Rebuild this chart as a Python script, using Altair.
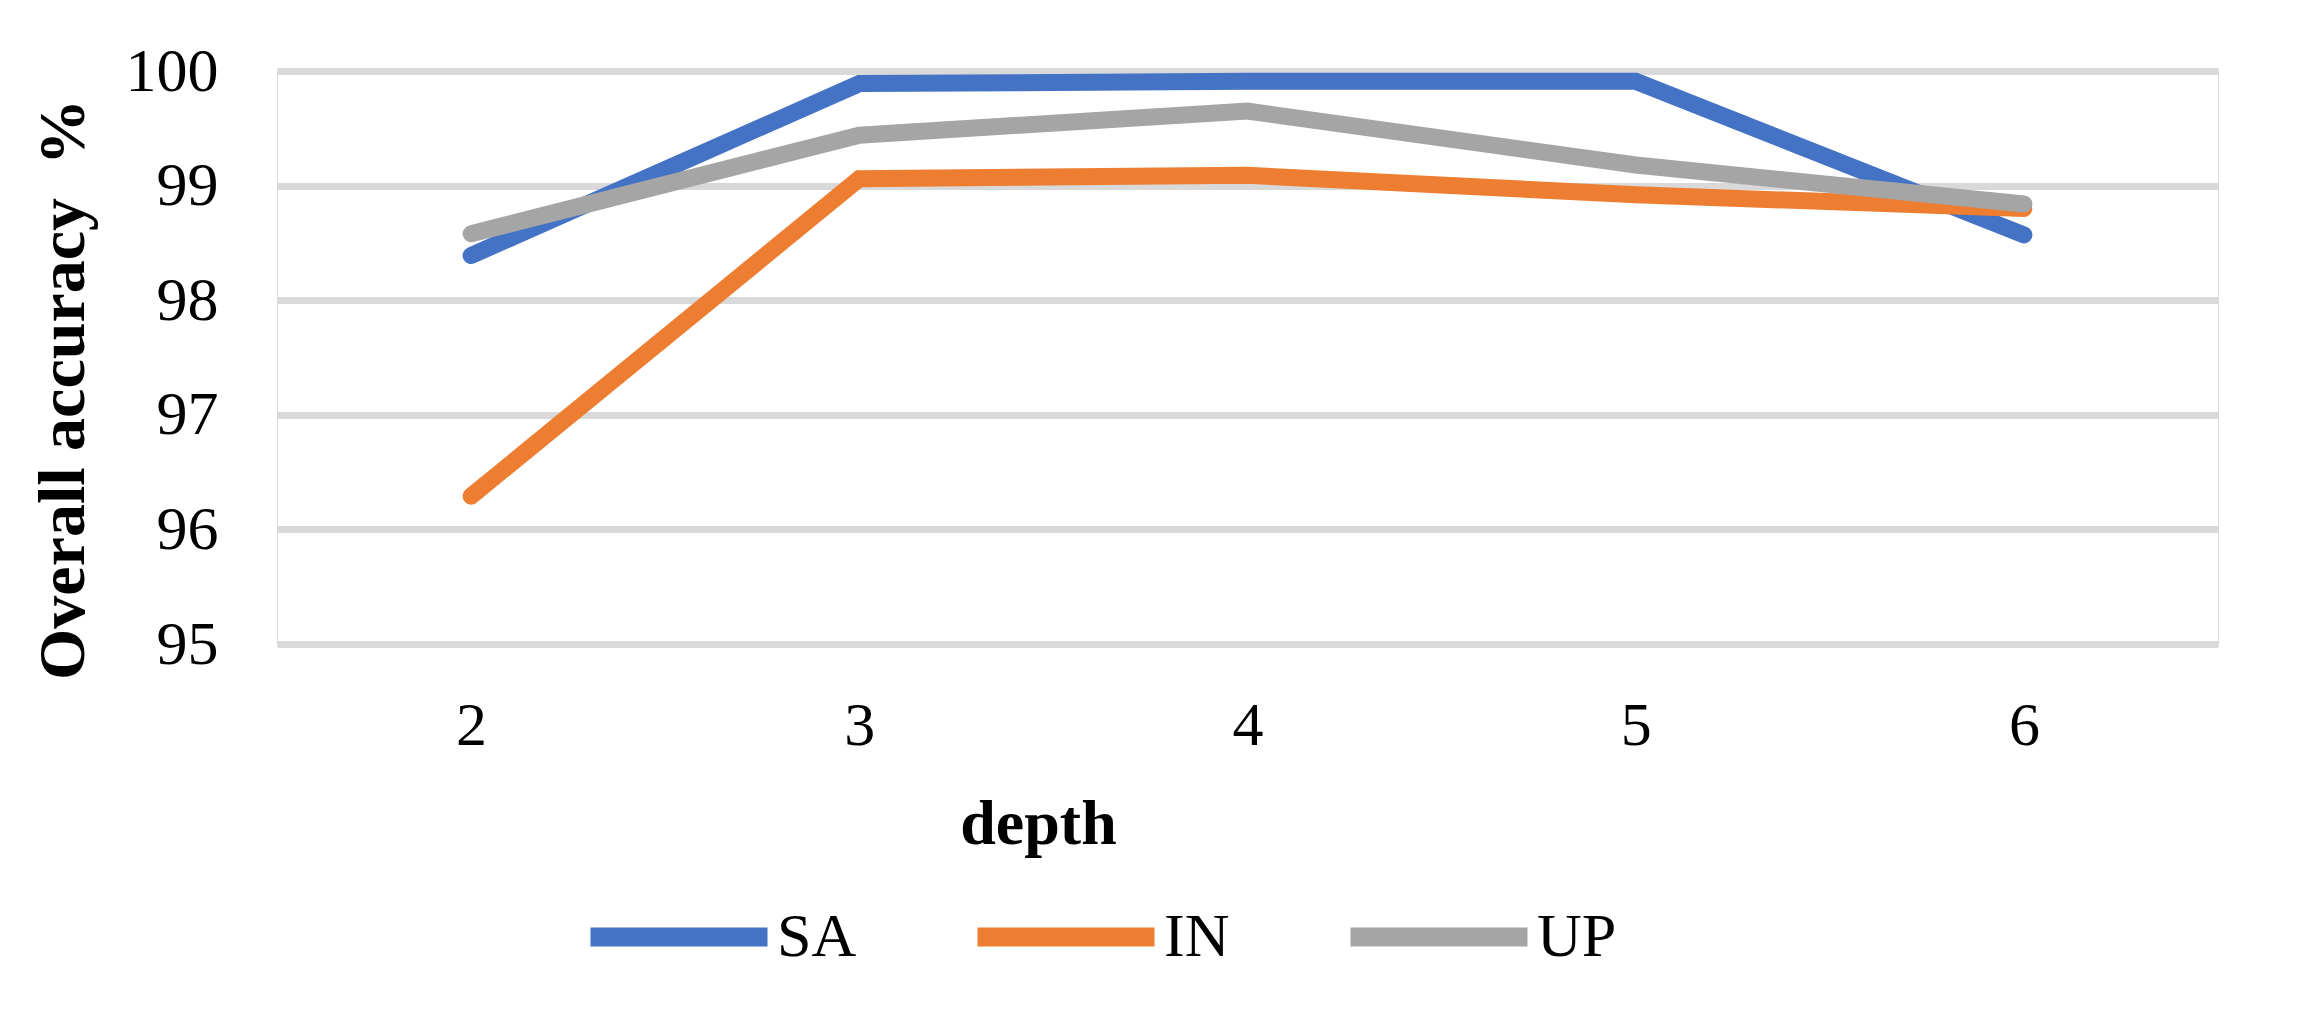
import altair as alt
import pandas as pd

depths = ["2", "3", "4", "5", "6"]
series_names = ["SA", "IN", "UP"]
sa_values = [98.39, 99.89, 99.91, 99.91, 98.57]
in_values = [96.29, 99.06, 99.09, 98.92, 98.80]
up_values = [98.58, 99.44, 99.65, 99.18, 98.84]
colors = ["#4472C4", "#ED7D31", "#A5A5A5"]

rows = []
for name, vals in zip(series_names, [sa_values, in_values, up_values]):
    for d, v in zip(depths, vals):
        rows.append({"depth": d, "series": name, "acc": v})
df = pd.DataFrame(rows)

FONT = "Liberation Serif"

chart = alt.Chart(df).mark_line(strokeWidth=17, strokeCap="round", strokeJoin="miter").encode(
    x=alt.X("depth:O", sort=depths,
            scale=alt.Scale(type="point", padding=0.5),
            axis=alt.Axis(title="depth", labelAngle=0, ticks=False, tickSize=0, domain=False,
                          labelFont=FONT, labelFontSize=62, labelColor="#000000",
                          labelPadding=51, grid=False,
                          titleFont=FONT, titleFontSize=64, titleFontWeight="bold",
                          titleColor="#000000", titleX=761, titleY=199,
                          titleAlign="center", titleBaseline="alphabetic")),
    y=alt.Y("acc:Q", scale=alt.Scale(domain=[95, 100], nice=False, zero=False),
            axis=alt.Axis(title="Overall accuracy\u00a0\u00a0%", values=[95, 96, 97, 98, 99, 100],
                          ticks=False, tickSize=0, domain=False,
                          labelFont=FONT, labelFontSize=62, labelColor="#000000",
                          labelPadding=59, grid=True, gridColor="#D9D9D9", gridWidth=7,
                          titleFont=FONT, titleFontSize=66, titleFontWeight="bold",
                          titleColor="#000000", titleX=-214, titleY=318,
                          titleAlign="center", titleBaseline="middle", titleAngle=270)),
    color=alt.Color("series:N", sort=series_names,
                    scale=alt.Scale(domain=series_names, range=colors),
                    legend=alt.Legend(title=None, orient="none", direction="horizontal",
                                      legendX=304, legendY=768, padding=0,
                                      symbolType="stroke", symbolSize=177 * 177,
                                      symbolStrokeWidth=19, labelOffset=0,
                                      columnPadding=82,
                                      labelFont=FONT, labelFontSize=62,
                                      labelColor="#000000")),
    order=alt.Order("depth:O"),
).properties(
    width=1941, height=573,
    autosize=alt.AutoSizeParams(type="none"),
    padding={"left": 269, "top": 63, "right": 90, "bottom": 360},
).configure_view(stroke=None).configure(background="#FFFFFF")

chart.save("out.html", embed_options={"renderer": "svg", "actions": False})
